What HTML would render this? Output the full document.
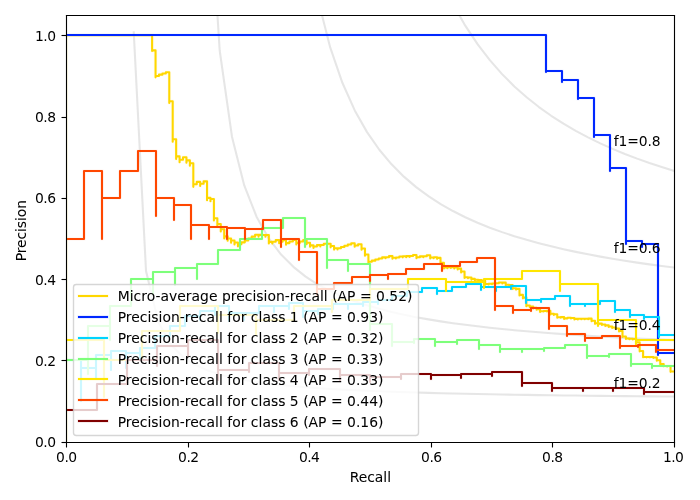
<!DOCTYPE html>
<html lang="en">
<head>
<meta charset="utf-8">
<title>Precision-Recall curves</title>
<style>
html,body{margin:0;padding:0;background:#fff;}
body{width:700px;height:500px;overflow:hidden;}
svg{display:block;}
text{font-family:"DejaVu Sans","Liberation Sans",sans-serif;font-size:13.8889px;fill:#000;}
.L{stroke:#000;stroke-width:0.05;}
.c{fill:none;stroke-width:2.0833;stroke-linejoin:round;stroke-linecap:square;}
.h{fill:none;stroke-width:4;stroke-opacity:0.04;stroke-linejoin:round;stroke-linecap:square;}
.s{fill:none;stroke:#000;stroke-width:1.1111;stroke-linecap:square;}
.t{fill:none;stroke:#000;stroke-width:1.1111;stroke-linecap:butt;}
</style>
</head>
<body>
<svg width="700" height="500" viewBox="0 0 700 500">
<defs><clipPath id="ax"><rect x="66.28" y="15" width="607.71" height="426.72"/></clipPath></defs>
<rect x="0" y="0" width="700" height="500" fill="#ffffff"/>
<g clip-path="url(#ax)">
<path class="c" d="M133.75 32.31L146.02 270.93L158.3 322.06L170.58 344.35L182.86 356.83L195.14 364.81L207.42 370.35L219.69 374.42L231.97 377.54L244.25 380.01L256.53 382.01L268.81 383.66L281.09 385.05L293.36 386.23L305.64 387.25L317.92 388.14L330.2 388.92L342.48 389.62L354.76 390.24L367.03 390.79L379.31 391.29L391.59 391.75L403.87 392.16L416.15 392.54L428.42 392.89L440.7 393.21L452.98 393.5L465.26 393.78L477.54 394.04L489.82 394.27L502.09 394.5L514.37 394.71L526.65 394.9L538.93 395.09L551.21 395.26L563.49 395.42L575.76 395.58L588.04 395.72L600.32 395.86L612.6 396L624.88 396.12L637.16 396.24L649.43 396.35L661.71 396.46L673.99 396.57" stroke="#808080" stroke-opacity="0.2"/>
<path class="c" d="M195.14 -989.64L207.42 -143.7L219.69 50.5L231.97 136.69L244.25 185.38L256.53 216.66L268.81 238.46L281.09 254.52L293.36 266.84L305.64 276.59L317.92 284.51L330.2 291.06L342.48 296.56L354.76 301.26L367.03 305.32L379.31 308.85L391.59 311.96L403.87 314.72L416.15 317.17L428.42 319.38L440.7 321.38L452.98 323.19L465.26 324.83L477.54 326.34L489.82 327.73L502.09 329.01L514.37 330.19L526.65 331.29L538.93 332.31L551.21 333.26L563.49 334.14L575.76 334.98L588.04 335.76L600.32 336.49L612.6 337.18L624.88 337.84L637.16 338.46L649.43 339.04L661.71 339.6L673.99 340.12" stroke="#808080" stroke-opacity="0.2"/>
<path class="c" d="M256.53 -2480.56L268.81 -779.73L281.09 -364.26L293.36 -176.66L305.64 -69.81L317.92 -0.81L330.2 47.43L342.48 83.05L354.76 110.43L367.03 132.13L379.31 149.76L391.59 164.36L403.87 176.65L416.15 187.14L428.42 196.2L440.7 204.1L452.98 211.05L465.26 217.21L477.54 222.71L489.82 227.66L502.09 232.12L514.37 236.17L526.65 239.86L538.93 243.24L551.21 246.35L563.49 249.21L575.76 251.86L588.04 254.32L600.32 256.61L612.6 258.74L624.88 260.73L637.16 262.6L649.43 264.35L661.71 266L673.99 267.55" stroke="#808080" stroke-opacity="0.2"/>
<path class="c" d="M317.92 -4338.51L330.2 -1617.38L342.48 -914.17L354.76 -591.38L367.03 -406.04L379.31 -285.77L391.59 -201.41L403.87 -138.97L416.15 -90.9L428.42 -52.73L440.7 -21.71L452.98 4.02L465.26 25.69L477.54 44.19L489.82 60.18L502.09 74.13L514.37 86.41L526.65 97.3L538.93 107.03L551.21 115.77L563.49 123.66L575.76 130.83L588.04 137.36L600.32 143.35L612.6 148.85L624.88 153.92L637.16 158.61L649.43 162.96L661.71 167.01L673.99 170.79" stroke="#808080" stroke-opacity="0.2"/>
<path class="h" d="M66.28 35.32H69.71V35.32H73.14V35.32H76.58V35.32H80.01V35.32H83.44V35.32H86.88V35.32H90.31V35.32H93.75V35.32H97.18V35.32H100.61V35.32H104.05V35.32H107.48V35.32H110.91V35.32H114.35V35.32H117.78V35.32H121.21V35.32H124.65V35.32H128.08V35.32H131.51V35.32H134.95V35.32H138.38V35.32H141.81V35.32H145.25V35.32H148.68V35.32H152.11V50.95V50.37H155.55V77.36V75.96H158.98V74.65H162.41V73.42H165.85V72.27H169.28V103.05V101.22H172.71V141.76V139.28H176.15V159.01V156.38H179.58V162.32V159.73H183.01V157.24H186.45V162.82V160.37H189.88V165.68V163.26H193.31V186.86V184.33H196.75V181.89H200.18V186.08V183.69H203.61V181.37H207.05V200.24V197.88H210.48V201.32V199.01H213.91V220.52V218.2H217.35V226.28V224.01H220.78V231.51V229.28H224.21V238.52V236.34H227.65V240.66V238.52H231.08V242.67V240.57H234.51V244.56V242.51H237.95V246.34V244.33H241.38V242.36H244.81V240.42H248.25V238.52H251.68V236.66H255.11V234.83H258.55V236.69V234.89H261.98V236.72V234.96H265.42V236.75V235.02H268.85V243.56V241.85H272.28V243.48V241.8H275.72V240.15H279.15V243.32V241.7H282.58V240.1H286.02V244.68V243.1H289.45V241.55H292.88V240.03H296.32V244.41V242.91H299.75V241.42H303.18V239.96H306.62V244.17V242.73H310.05V246.76V245.34H313.48V247.94V246.54H316.92V245.16H320.35V246.44V245.08H323.78V243.73H327.22V244.99V243.67H330.65V247.36V246.05H334.08V249.6V248.31H337.52V249.47V248.2H340.95V246.94H344.38V245.69H347.82V244.46H351.25V243.25H354.68V246.65V245.45H358.12V244.26H361.55V249.69V248.51H364.98V255.63V254.48H368.42V262.91V261.77H371.85V260.65H375.28V259.54H378.72V258.44H382.15V257.35H385.58V258.25V257.17H389.02V256.11H392.45V258.74V257.69H395.88V258.56V257.51H399.32V256.48H402.75V257.34V256.31H406.18V257.16V256.15H409.62V256.99V255.99H413.05V255H416.48V258.3V257.32H419.92V256.35H423.35V257.16V256.19H426.79V255.23H430.22V258.41V257.46H433.65V258.24V257.3H437.09V258.84V257.91H440.52V263.82V262.91H443.95V268.45V267.55H447.39V268.22V267.33H450.82V267.99V267.11H454.25V268.43V267.55H457.69V269.49V268.63H461.12V272.39V271.53H464.55V278.03V277.19H467.99V278.32V277.49H471.42V279.71V278.89H474.85V280.52V279.7H478.29V280.77V279.96H481.72V281.54V280.74H485.15V284.82V284.03H488.59V284.53V283.75H492.02V284.24V283.47H495.45V283.96V283.19H498.89V282.42H502.32V283.4V282.64H505.75V285.51V284.76H509.19V285.69V284.95H512.62V289.03V288.3H516.05V289.61V288.89H519.49V295.55V294.84H522.92V298.35V297.65H526.35V306.25V305.58H529.79V307.25V306.59H533.22V308.54V307.88H536.65V309.79V309.14H540.09V311.9V311.26H543.52V311.56V310.93H546.95V311.52V310.89H550.39V314.38V313.76H553.82V314.89V314.28H557.25V317.81V317.21H560.69V317.74V317.14H564.12V318.95V318.37H567.55V317.78H570.99V318.54V317.96H574.42V319.47V318.89H577.85V319.39V318.82H581.29V319.31V318.74H584.72V319.23V318.67H588.15V319.16V318.59H591.59V321.22V320.67H595.02V323.86V323.32H598.46V324.2V323.66H601.89V324.97V324.43H605.32V325.92V325.4H608.76V327.06V326.54H612.19V327.96V327.44H615.62V329.03V328.52H619.06V331.38V330.89H622.49V337.05V336.57H625.92V339.02V338.55H629.36V339.18V338.72H632.79V339.5V339.04H636.22V342.66V342.21H639.66V351.35V350.93H643.09V357.33V356.93H646.52V357.35V356.95H649.96V357.37V356.97H653.39V357.89V357.5H656.82V360.63V360.25H660.26V364.38V364.01H663.69V366.33V365.98H667.12V366.38V366.03H670.56V371.87V371.54H673.99" stroke="#ffd700"/>
<path class="c" d="M66.28 35.32H69.71V35.32H73.14V35.32H76.58V35.32H80.01V35.32H83.44V35.32H86.88V35.32H90.31V35.32H93.75V35.32H97.18V35.32H100.61V35.32H104.05V35.32H107.48V35.32H110.91V35.32H114.35V35.32H117.78V35.32H121.21V35.32H124.65V35.32H128.08V35.32H131.51V35.32H134.95V35.32H138.38V35.32H141.81V35.32H145.25V35.32H148.68V35.32H152.11V50.95V50.37H155.55V77.36V75.96H158.98V74.65H162.41V73.42H165.85V72.27H169.28V103.05V101.22H172.71V141.76V139.28H176.15V159.01V156.38H179.58V162.32V159.73H183.01V157.24H186.45V162.82V160.37H189.88V165.68V163.26H193.31V186.86V184.33H196.75V181.89H200.18V186.08V183.69H203.61V181.37H207.05V200.24V197.88H210.48V201.32V199.01H213.91V220.52V218.2H217.35V226.28V224.01H220.78V231.51V229.28H224.21V238.52V236.34H227.65V240.66V238.52H231.08V242.67V240.57H234.51V244.56V242.51H237.95V246.34V244.33H241.38V242.36H244.81V240.42H248.25V238.52H251.68V236.66H255.11V234.83H258.55V236.69V234.89H261.98V236.72V234.96H265.42V236.75V235.02H268.85V243.56V241.85H272.28V243.48V241.8H275.72V240.15H279.15V243.32V241.7H282.58V240.1H286.02V244.68V243.1H289.45V241.55H292.88V240.03H296.32V244.41V242.91H299.75V241.42H303.18V239.96H306.62V244.17V242.73H310.05V246.76V245.34H313.48V247.94V246.54H316.92V245.16H320.35V246.44V245.08H323.78V243.73H327.22V244.99V243.67H330.65V247.36V246.05H334.08V249.6V248.31H337.52V249.47V248.2H340.95V246.94H344.38V245.69H347.82V244.46H351.25V243.25H354.68V246.65V245.45H358.12V244.26H361.55V249.69V248.51H364.98V255.63V254.48H368.42V262.91V261.77H371.85V260.65H375.28V259.54H378.72V258.44H382.15V257.35H385.58V258.25V257.17H389.02V256.11H392.45V258.74V257.69H395.88V258.56V257.51H399.32V256.48H402.75V257.34V256.31H406.18V257.16V256.15H409.62V256.99V255.99H413.05V255H416.48V258.3V257.32H419.92V256.35H423.35V257.16V256.19H426.79V255.23H430.22V258.41V257.46H433.65V258.24V257.3H437.09V258.84V257.91H440.52V263.82V262.91H443.95V268.45V267.55H447.39V268.22V267.33H450.82V267.99V267.11H454.25V268.43V267.55H457.69V269.49V268.63H461.12V272.39V271.53H464.55V278.03V277.19H467.99V278.32V277.49H471.42V279.71V278.89H474.85V280.52V279.7H478.29V280.77V279.96H481.72V281.54V280.74H485.15V284.82V284.03H488.59V284.53V283.75H492.02V284.24V283.47H495.45V283.96V283.19H498.89V282.42H502.32V283.4V282.64H505.75V285.51V284.76H509.19V285.69V284.95H512.62V289.03V288.3H516.05V289.61V288.89H519.49V295.55V294.84H522.92V298.35V297.65H526.35V306.25V305.58H529.79V307.25V306.59H533.22V308.54V307.88H536.65V309.79V309.14H540.09V311.9V311.26H543.52V311.56V310.93H546.95V311.52V310.89H550.39V314.38V313.76H553.82V314.89V314.28H557.25V317.81V317.21H560.69V317.74V317.14H564.12V318.95V318.37H567.55V317.78H570.99V318.54V317.96H574.42V319.47V318.89H577.85V319.39V318.82H581.29V319.31V318.74H584.72V319.23V318.67H588.15V319.16V318.59H591.59V321.22V320.67H595.02V323.86V323.32H598.46V324.2V323.66H601.89V324.97V324.43H605.32V325.92V325.4H608.76V327.06V326.54H612.19V327.96V327.44H615.62V329.03V328.52H619.06V331.38V330.89H622.49V337.05V336.57H625.92V339.02V338.55H629.36V339.18V338.72H632.79V339.5V339.04H636.22V342.66V342.21H639.66V351.35V350.93H643.09V357.33V356.93H646.52V357.35V356.95H649.96V357.37V356.97H653.39V357.89V357.5H656.82V360.63V360.25H660.26V364.38V364.01H663.69V366.33V365.98H667.12V366.38V366.03H670.56V371.87V371.54H673.99" stroke="#ffd700"/>
<path class="h" d="M66 35H82H98H114H130H146H162H178H194H210H226H242H258H274H290H306H322H338H354H370H386H402H418H434H450H466H482H498H514H530H546V72V71H562V82V80H578V99V98H594V137V135H610V171V168H626V244V241H642V247V244H658V355V353H674" stroke="#0028ff"/>
<path class="c" d="M66 35H82H98H114H130H146H162H178H194H210H226H242H258H274H290H306H322H338H354H370H386H402H418H434H450H466H482H498H514H530H546V72V71H562V82V80H578V99V98H594V137V135H610V171V168H626V244V241H642V247V244H658V355V353H674" stroke="#0028ff"/>
<path class="h" d="M66 360H81V401V368H96V379V355H111V370V351H126V368V353H140V360V348H155V336H170V326H185V316H200V320V311H215V315V306H229V321V313H244V320V313H259V306H274V312V306H289V309V303H303V317V311H318V314V309H333V304H348V309V304H363V306V302H378V304V300H392V296H407V292H422V288H437V294V291H452V287H466V284H481V290V287H496V291V287H511V289V286H526V303V300H541V302V299H555V296H570V306V304H585V306V304H600V301H615V312V310H630V317V315H644V319V317H659V337V335H674" stroke="#00d4ff"/>
<path class="c" d="M66 360H81V401V368H96V379V355H111V370V351H126V368V353H140V360V348H155V336H170V326H185V316H200V320V311H215V315V306H229V321V313H244V320V313H259V306H274V312V306H289V309V303H303V317V311H318V314V309H333V304H348V309V304H363V306V302H378V304V300H392V296H407V292H422V288H437V294V291H452V287H466V284H481V290V287H496V291V287H511V289V286H526V303V300H541V302V299H555V296H570V306V304H585V306V304H600V301H615V312V310H630V317V315H644V319V317H659V337V335H674" stroke="#00d4ff"/>
<path class="h" d="M66 360H88V374V326H110V340V306H131V279H153V294V272H175V285V268H197V279V264H218V250H240V239H262V228H283V218H305V247V239H327V268V260H348V271V264H370V330V324H392V346V342H414V343V339H435V346V342H457V344V340H479V349V345H500V352V349H522V352V349H544V351V348H565V345H587V358V356H609V357V354H631V366V364H652V368V366H674" stroke="#7dff7a"/>
<path class="c" d="M66 360H88V374V326H110V340V306H131V279H153V294V272H175V285V268H197V279V264H218V250H240V239H262V228H283V218H305V247V239H327V268V260H348V271V264H370V330V324H392V346V342H414V343V339H435V346V342H457V344V340H479V349V345H500V352V349H522V352V349H544V351V348H565V345H587V358V356H609V357V354H631V366V364H652V368V366H674" stroke="#7dff7a"/>
<path class="h" d="M66 340H104V397V360H142V331H180V306H218V333V315H256V335V320H294V306H332V312V300H370V289H408V279H446V291V282H484V288V279H522V271H560V291V284H598V326V320H636V345V340H674" stroke="#ffe600"/>
<path class="c" d="M66 340H104V397V360H142V331H180V306H218V333V315H256V335V320H294V306H332V312V300H370V289H408V279H446V291V282H484V288V279H522V271H560V291V284H598V326V320H636V345V340H674" stroke="#ffe600"/>
<path class="h" d="M66 239H84V171H102V239V198H120V171H138V151H156V216V198H174V220V205H191V239V225H209V239V227H227V239V228H245V239V229H263V220H281V247V239H299V260V252H317V296V289H334V283H352V277H370V281V275H388V279V274H406V269H424V264H442V271V266H460V262H477V258H495V310V306H513V313V310H531V311V308H549V329V326H567V336V334H585V341V338H602V336H620V348V346H638V347V345H656V352V350H674" stroke="#ff4700"/>
<path class="c" d="M66 239H84V171H102V239V198H120V171H138V151H156V216V198H174V220V205H191V239V225H209V239V227H227V239V228H245V239V229H263V220H281V247V239H299V260V252H317V296V289H334V283H352V277H370V281V275H388V279V274H406V269H424V264H442V271V266H460V262H477V258H495V310V306H513V313V310H531V311V308H549V329V326H567V336V334H585V341V338H602V336H620V348V346H638V347V345H656V352V350H674" stroke="#ff4700"/>
<path class="h" d="M66 410H97V384H127V360H157V366V346H188V356V340H218V380V370H249V372V363H279V380V373H309V375V369H340V381V375H370V382V377H401V379V374H431V379V375H461V378V374H492V376V372H522V386V383H552V391V388H583V391V388H613V391V388H644V394V392H674" stroke="#800000"/>
<path class="c" d="M66 410H97V384H127V360H157V366V346H188V356V340H218V380V370H249V372V363H279V380V373H309V375V369H340V381V375H370V382V377H401V379V374H431V379V375H461V378V374H492V376V372H522V386V383H552V391V388H583V391V388H613V391V388H644V394V392H674" stroke="#800000"/>
<rect x="67" y="35" width="1" height="407" fill="#ffe600" fill-opacity="0.09"/>
</g>
<g>
<path class="t" d="M66.5 442.5V447.5"/><path class="t" d="M188.5 442.5V447.5"/><path class="t" d="M309.5 442.5V447.5"/><path class="t" d="M431.5 442.5V447.5"/><path class="t" d="M552.5 442.5V447.5"/><path class="t" d="M674.5 442.5V447.5"/><path class="t" d="M61.5 442.5H66.5"/><path class="t" d="M61.5 360.5H66.5"/><path class="t" d="M61.5 279.5H66.5"/><path class="t" d="M61.5 198.5H66.5"/><path class="t" d="M61.5 117.5H66.5"/><path class="t" d="M61.5 35.5H66.5"/>
</g>
<path class="s" d="M66.5 442.5V15.5"/><path class="s" d="M674.5 442.5V15.5"/><path class="s" d="M66.5 442.5H674.5"/><path class="s" d="M66.5 15.5H674.5"/>
<text x="66.6" y="461.5" text-anchor="middle" textLength="21" lengthAdjust="spacing">0.0</text><text x="188.6" y="461.5" text-anchor="middle" textLength="21" lengthAdjust="spacing">0.2</text><text x="309.4" y="461.5" text-anchor="middle" textLength="21" lengthAdjust="spacing">0.4</text><text x="431.6" y="461.5" text-anchor="middle" textLength="21" lengthAdjust="spacing">0.6</text><text x="552.6" y="461.5" text-anchor="middle" textLength="21" lengthAdjust="spacing">0.8</text><text x="673.4" y="461.5" text-anchor="middle" textLength="21" lengthAdjust="spacing">1.0</text>
<text x="56.06" y="446.5" text-anchor="end" textLength="21" lengthAdjust="spacing">0.0</text><text x="56.06" y="365.5" text-anchor="end" textLength="21" lengthAdjust="spacing">0.2</text><text x="56.06" y="284.5" text-anchor="end" textLength="21" lengthAdjust="spacing">0.4</text><text x="56.06" y="202.5" text-anchor="end" textLength="21" lengthAdjust="spacing">0.6</text><text x="56.06" y="121.5" text-anchor="end" textLength="21" lengthAdjust="spacing">0.8</text><text x="56.06" y="40.5" text-anchor="end" textLength="21" lengthAdjust="spacing">1.0</text>
<text class="L" x="370.34" y="481.6" text-anchor="middle">Recall</text>
<text class="L" transform="translate(25.6 230.66) rotate(-90)" text-anchor="middle" textLength="61.2" lengthAdjust="spacing">Precision</text>
<text x="613.82" y="387.99" textLength="46.8" lengthAdjust="spacing">f1=0.2</text><text x="613.82" y="329.71" textLength="46.8" lengthAdjust="spacing">f1=0.4</text><text x="613.82" y="252.6" textLength="46.8" lengthAdjust="spacing">f1=0.6</text><text x="613.82" y="145.79" textLength="46.8" lengthAdjust="spacing">f1=0.8</text>
<rect x="73.5" y="284.5" width="345" height="151" rx="2.78" ry="2.78" fill="#ffffff" fill-opacity="0.8" stroke="#cccccc" stroke-opacity="0.8" stroke-width="1.3889"/>
<path class="h" d="M79 296H107" stroke="#ffd700"/><path class="c" d="M79 296H107" stroke="#ffd700"/><text class="L" x="117.67" y="300.55" textLength="294.8" lengthAdjust="spacing">Micro-average precision-recall (AP = 0.52)</text>
<path class="h" d="M79 317H107" stroke="#0028ff"/><path class="c" d="M79 317H107" stroke="#0028ff"/><text class="L" x="117.67" y="321.5" textLength="265.8" lengthAdjust="spacing">Precision-recall for class 1 (AP = 0.93)</text>
<path class="h" d="M79 338H107" stroke="#00d4ff"/><path class="c" d="M79 338H107" stroke="#00d4ff"/><text class="L" x="117.67" y="342.94" textLength="265.8" lengthAdjust="spacing">Precision-recall for class 2 (AP = 0.32)</text>
<path class="h" d="M79 359H107" stroke="#7dff7a"/><path class="c" d="M79 359H107" stroke="#7dff7a"/><text class="L" x="117.67" y="363.89" textLength="265.8" lengthAdjust="spacing">Precision-recall for class 3 (AP = 0.33)</text>
<path class="h" d="M79 379H107" stroke="#ffe600"/><path class="c" d="M79 379H107" stroke="#ffe600"/><text class="L" x="117.67" y="384.83" textLength="265.8" lengthAdjust="spacing">Precision-recall for class 4 (AP = 0.33)</text>
<path class="h" d="M79 400H107" stroke="#ff4700"/><path class="c" d="M79 400H107" stroke="#ff4700"/><text class="L" x="117.67" y="405.78" textLength="265.8" lengthAdjust="spacing">Precision-recall for class 5 (AP = 0.44)</text>
<path class="h" d="M79 421H107" stroke="#800000"/><path class="c" d="M79 421H107" stroke="#800000"/><text class="L" x="117.67" y="426.72" textLength="265.8" lengthAdjust="spacing">Precision-recall for class 6 (AP = 0.16)</text>
</svg>
</body>
</html>
